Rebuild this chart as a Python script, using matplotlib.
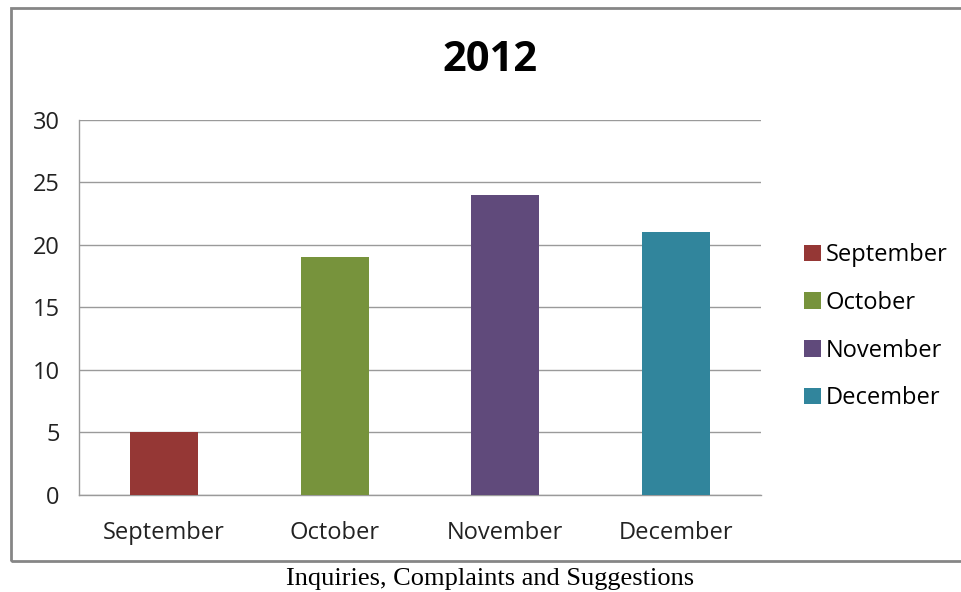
import matplotlib.pyplot as plt
from matplotlib.patches import Rectangle, Patch

# Inquiries, complaints and suggestions per month, 2012
months = ['September', 'October', 'November', 'December']
counts = [5, 19, 24, 21]
colors = ['#953735', '#77933C', '#604A7B', '#31859C']
y_ticks = [0, 5, 10, 15, 20, 25, 30]

plt.rcParams['font.family'] = 'Open Sans'

fig = plt.figure(figsize=(9.61, 5.92), dpi=100)
ax = fig.add_axes([0.0822, 0.1639, 0.7097, 0.6334])

ax.bar(range(len(months)), counts, width=0.4, color=colors, zorder=3)
ax.set_xlim(-0.5, len(months) - 0.5)
ax.set_ylim(0, 30)
ax.set_yticks(y_ticks)
ax.set_xticks(range(len(months)))
ax.set_xticklabels(months)
ax.tick_params(length=0, labelsize=17, colors='#222222')
ax.tick_params(axis='x', pad=19)
ax.tick_params(axis='y', pad=14)
ax.grid(axis='y', color='#9a9a9a', linewidth=1.0, zorder=0)
for side in ['top', 'right']:
    ax.spines[side].set_visible(False)
for side in ['left', 'bottom']:
    ax.spines[side].set_color('#9a9a9a')
    ax.spines[side].set_linewidth(1.0)

fig.text(0.51, 0.898, '2012', ha='center', va='center', fontsize=30, fontweight='bold')

handles = [Patch(facecolor=c, label=m) for c, m in zip(colors, months)]
fig.legend(handles=handles, loc='center left', bbox_to_anchor=(0.827, 0.448),
           frameon=False, fontsize=17, handlelength=0.7, handleheight=0.7,
           handletextpad=0.2, labelspacing=1.0, borderaxespad=0)

# chart border
fig.add_artist(Rectangle((0.0115, 0.0524), 1.1, 0.934, transform=fig.transFigure,
                         fill=False, edgecolor='#868686', linewidth=2.0))

fig.text(0.51, 0.022, 'Inquiries, Complaints and Suggestions', ha='center', va='center',
         fontsize=19, family='Liberation Serif')

plt.savefig('out.png', dpi=100)
